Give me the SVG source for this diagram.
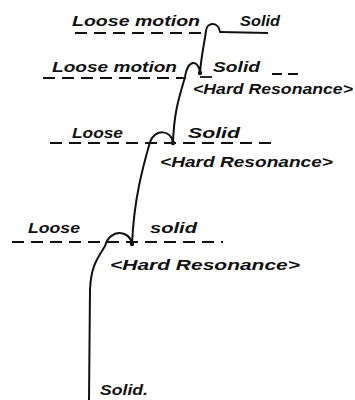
<svg xmlns="http://www.w3.org/2000/svg" width="355" height="400" viewBox="0 0 355 400">
<style>
.t{font-family:"Liberation Sans","DejaVu Sans",sans-serif;font-weight:bold;font-style:italic;font-size:14px;fill:#111;}
.d{stroke:#111;stroke-width:1.8;stroke-dasharray:12 7;fill:none;}
.s{stroke:#111;stroke-width:1.8;fill:none;}
.c{stroke:#111;stroke-width:2;fill:none;stroke-linecap:round;}
</style>
<rect width="355" height="400" fill="#fff"/>
<g id="level1">
<text class="t" x="72" y="26" textLength="128" lengthAdjust="spacingAndGlyphs">Loose motion</text>
<text class="t" x="240" y="26" textLength="40" lengthAdjust="spacingAndGlyphs">Solid</text>
<line class="d" x1="75" y1="33" x2="202" y2="33"/>
<line class="s" x1="220" y1="32" x2="268" y2="33"/>
</g>
<g id="level2">
<text class="t" x="52" y="72" textLength="125" lengthAdjust="spacingAndGlyphs">Loose motion</text>
<text class="t" x="213" y="72" textLength="47" lengthAdjust="spacingAndGlyphs">Solid</text>
<line class="d" x1="43" y1="78" x2="186" y2="78"/>
<line class="s" x1="200" y1="77" x2="212" y2="77"/>
<line class="d" x1="272" y1="74" x2="300" y2="74" style="stroke-dasharray:10 6"/>
<text class="t" x="193" y="94" textLength="160" lengthAdjust="spacingAndGlyphs">&lt;Hard Resonance&gt;</text>
</g>
<g id="level3">
<text class="t" x="72" y="138" textLength="51" lengthAdjust="spacingAndGlyphs">Loose</text>
<text class="t" x="188" y="138" textLength="52" lengthAdjust="spacingAndGlyphs">Solid</text>
<line class="d" x1="50" y1="143" x2="277" y2="143"/>
<text class="t" x="160" y="167" textLength="173" lengthAdjust="spacingAndGlyphs">&lt;Hard Resonance&gt;</text>
</g>
<g id="level4">
<text class="t" x="28" y="233" textLength="52" lengthAdjust="spacingAndGlyphs">Loose</text>
<text class="t" x="150" y="233" textLength="47" lengthAdjust="spacingAndGlyphs">solid</text>
<line class="d" x1="12" y1="242" x2="223" y2="242"/>
<text class="t" x="110" y="270" textLength="190" lengthAdjust="spacingAndGlyphs">&lt;Hard Resonance&gt;</text>
</g>
<g id="level5">
<text class="t" x="100" y="395" textLength="48" lengthAdjust="spacingAndGlyphs">Solid.</text>
</g>
<g id="connectors">
<path class="c" d="M220,32 C219,22 207,21 206,31 C204,45 201,58 200,73 C199,60 188,58 185,77 C180,95 174,110 173,143 C172,130 155,128 150,142 C142,170 134,200 132,244 C130,230 110,228 105,246 C98,258 91,265 90,290 L89,400"/>
<circle cx="200" cy="73" r="2.2" fill="#111"/>
<circle cx="173" cy="143" r="2.2" fill="#111"/>
<circle cx="132" cy="244" r="2.2" fill="#111"/>
</g>
</svg>
